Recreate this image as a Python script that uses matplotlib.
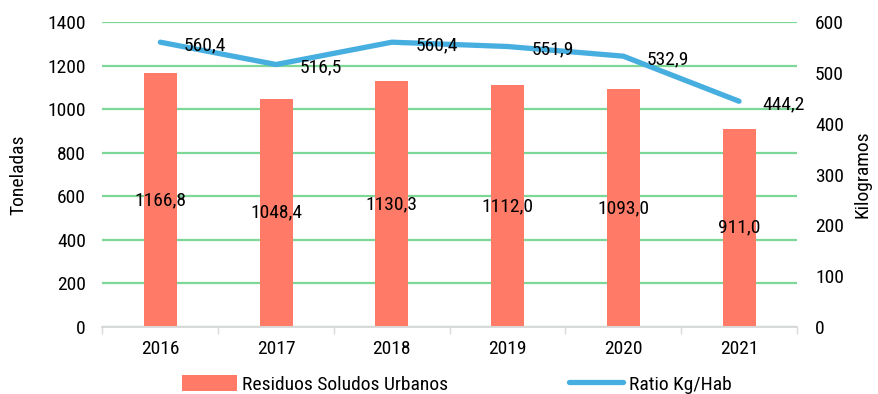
import matplotlib.pyplot as plt
import numpy as np
from matplotlib import font_manager

# prefer a narrow face, fall back to Roboto / DejaVu
names = {f.name for f in font_manager.fontManager.ttflist}
preferred = ["Roboto Condensed", "Open Sans Condensed", "Liberation Sans Narrow",
             "DejaVu Sans Condensed", "Roboto"]
plt.rcParams['font.family'] = [n for n in preferred if n in names][:1] + ['DejaVu Sans']

years = ["2016", "2017", "2018", "2019", "2020", "2021"]
toneladas = [1166.8, 1048.4, 1130.3, 1112.0, 1093.0, 911.0]
ratio_kg_hab = [560.4, 516.5, 560.4, 551.9, 532.9, 444.2]

bar_color = "#FF7B67"
line_color = "#47AEE0"
grid_color = "#7DD897"
fs = 14


def fmt(v):
    return f"{v:.1f}".replace(".", ",")


fig = plt.figure(figsize=(8.79, 3.94), dpi=100)
ax = fig.add_axes([0.1166, 0.170, 0.790, 0.774])
ax2 = ax.twinx()

x = np.arange(len(years))
bars = ax.bar(x, toneladas, width=0.285, color=bar_color, zorder=2,
              label="Residuos Soludos Urbanos")
for xi, v in zip(x, toneladas):
    ax.text(xi, v / 2, fmt(v), ha="center", va="center", fontsize=fs, zorder=5)

ax.set_xlim(-0.5, len(years) - 0.5)
ax.set_ylim(0, 1400)
ax.set_yticks(range(0, 1401, 200))
ax.yaxis.grid(True, color=grid_color, linewidth=1.6, zorder=0)
ax.set_axisbelow(True)
ax.set_xticks(x)
ax.set_xticklabels(years)
ax.set_xticks(np.arange(-0.5, len(years)), minor=True)
ax.tick_params(axis="x", which="major", length=0, pad=9, labelsize=fs)
ax.tick_params(axis="x", which="minor", length=5, color="#d9d9d9", width=1)
ax.tick_params(axis="y", length=0, pad=12, labelsize=fs)
ax.set_ylabel("Toneladas", fontsize=fs, labelpad=14)

line, = ax2.plot(x, ratio_kg_hab, color=line_color, linewidth=3.8,
                 solid_capstyle="round", zorder=3, label="Ratio Kg/Hab")
for xi, v in zip(x, ratio_kg_hab):
    ax2.annotate(fmt(v), (xi, v), xytext=(17, -2), textcoords="offset points",
                 ha="left", va="center", fontsize=fs)
ax2.set_ylim(0, 600)
ax2.set_yticks(range(0, 601, 100))
ax2.tick_params(axis="y", length=0, pad=13, labelsize=fs)
ax2.set_ylabel("Kilogramos", fontsize=fs, labelpad=7)

for a in (ax, ax2):
    for side in ("top", "left", "right"):
        a.spines[side].set_visible(False)
    a.spines["bottom"].set_color("#d9d9d9")
    a.spines["bottom"].set_linewidth(1.2)

fig.legend([bars, line], ["Residuos Soludos Urbanos", "Ratio Kg/Hab"],
           loc="center", bbox_to_anchor=(0.52, 0.025), ncol=2, frameon=False,
           fontsize=fs, handlelength=2.8, handleheight=0.9, handletextpad=0.3,
           columnspacing=6.2)

fig.savefig("out.png", dpi=100)
